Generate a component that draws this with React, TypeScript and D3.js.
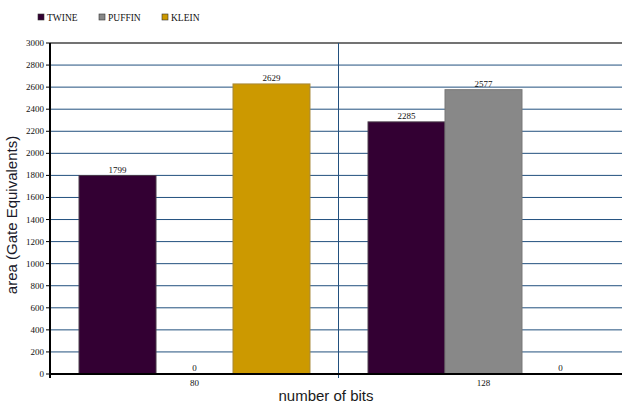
import React from "react";
import * as d3 from "d3";

const categories = ["80", "128"];
const seriesNames = ["TWINE", "PUFFIN", "KLEIN"];
const twine = [1799, 2285];
const puffin = [0, 2577];
const klein = [2629, 0];
const yTicks = [0, 200, 400, 600, 800, 1000, 1200, 1400, 1600, 1800, 2000, 2200, 2400, 2600, 2800, 3000];
const colors = ["#330033", "#888888", "#cc9900"];
const borders = ["#4a3a4a", "#777777", "#a8893a"];

const W = 622;
const H = 405;
const left = 50;
const right = 628;
const top = 43;
const bottom = 374;

export default function App() {
  const values = [twine, puffin, klein];
  const x = d3.scaleBand<string>().domain(categories).range([left, right]).padding(0);
  const inner = d3
    .scaleBand<string>()
    .domain(seriesNames)
    .range([0, x.bandwidth()])
    .paddingInner(0)
    .paddingOuter(0.377);
  const y = d3.scaleLinear().domain([0, 3000]).range([bottom, top]);
  const serif = "'Liberation Serif', 'Times New Roman', serif";
  const sans = "'Liberation Sans', Arial, sans-serif";

  return (
    <svg
      width={W}
      height={H}
      style={{ position: "absolute", left: 0, top: 0, background: "#fff" }}
    >
      {/* legend */}
      {seriesNames.map((s, i) => {
        const lx = [38, 99, 162][i];
        return (
          <g key={s}>
            <rect x={lx} y={14} width={6} height={6} fill={colors[i]} stroke="#333" strokeWidth={0.6} />
            <text x={lx + 9} y={20.5} fontFamily={serif} fontSize={9.5} fill="#111">
              {s}
            </text>
          </g>
        );
      })}

      {/* gridlines */}
      {yTicks
        .filter((t) => t > 0 && t < 3000)
        .map((t) => (
          <line key={t} x1={left} x2={W} y1={y(t)} y2={y(t)} stroke="#22507e" strokeWidth={1} />
        ))}
      <line x1={left} x2={W} y1={y(3000)} y2={y(3000)} stroke="#444" strokeWidth={1.3} />
      {/* category separator */}
      <line x1={x("128")! - 0.5} x2={x("128")! - 0.5} y1={top} y2={bottom + 4} stroke="#22507e" strokeWidth={1} />

      {/* bars */}
      {categories.map((c, ci) =>
        seriesNames.map((s, si) => {
          const v = values[si][ci];
          const bx = x(c)! + inner(s)!;
          const bw = inner.bandwidth();
          return (
            <g key={c + s}>
              {v > 0 && (
                <rect
                  x={bx}
                  y={y(v)}
                  width={bw}
                  height={y(0) - y(v)}
                  fill={colors[si]}
                  stroke={borders[si]}
                  strokeWidth={1}
                />
              )}
              <text
                x={bx + bw / 2}
                y={y(v) - 3}
                textAnchor="middle"
                fontFamily={serif}
                fontSize={9}
                fill="#111"
              >
                {v}
              </text>
            </g>
          );
        })
      )}

      {/* y axis */}
      <line x1={left} x2={left} y1={top} y2={bottom + 4} stroke="#000" strokeWidth={2} />
      {yTicks.map((t) => (
        <g key={t}>
          <line x1={left - 4} x2={left} y1={y(t)} y2={y(t)} stroke="#000" strokeWidth={1} />
          <text
            x={left - 6}
            y={y(t) + 3}
            textAnchor="end"
            fontFamily={serif}
            fontSize={9}
            fill="#111"
          >
            {t}
          </text>
        </g>
      ))}

      {/* x axis */}
      <line x1={left - 1} x2={W} y1={bottom} y2={bottom} stroke="#000" strokeWidth={2} />
      {categories.map((c) => (
        <text
          key={c}
          x={x(c)! + x.bandwidth() / 2}
          y={386}
          textAnchor="middle"
          fontFamily={serif}
          fontSize={9}
          fill="#111"
        >
          {c}
        </text>
      ))}

      {/* axis titles */}
      <text x={326} y={401} textAnchor="middle" fontFamily={sans} fontSize={15} fill="#1a1a1a">
        number of bits
      </text>
      <text
        transform={`translate(17,215) rotate(-90)`}
        textAnchor="middle"
        fontFamily={sans}
        fontSize={15}
        fill="#1a1a2a"
      >
        area (Gate Equivalents)
      </text>
    </svg>
  );
}
